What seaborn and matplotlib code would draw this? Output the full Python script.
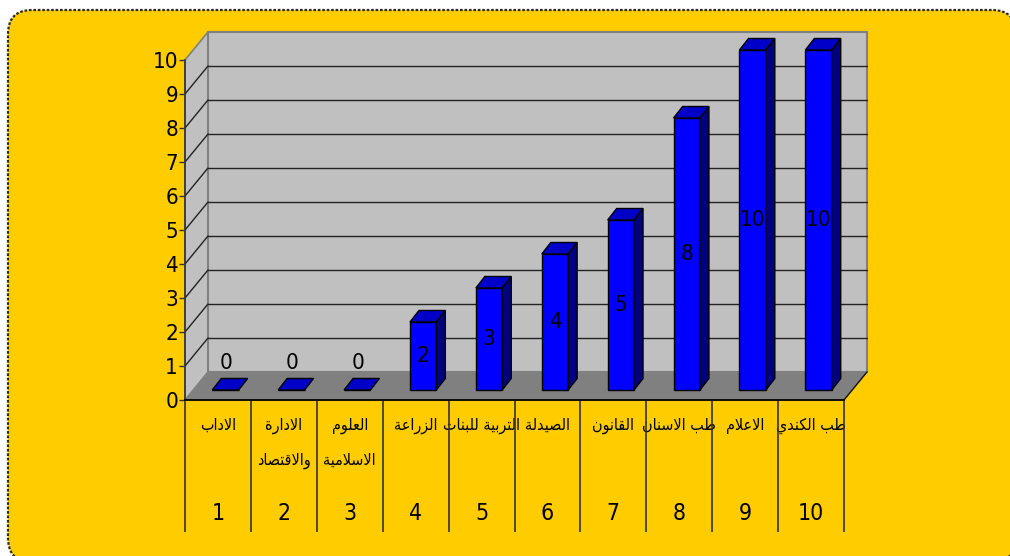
import numpy as np
import pandas as pd
import matplotlib
matplotlib.use("Agg")
import matplotlib.pyplot as plt
import seaborn as sns
from matplotlib import font_manager
from matplotlib.patches import Polygon, FancyBboxPatch
from matplotlib.lines import Line2D
from matplotlib.transforms import ScaledTranslation, IdentityTransform, blended_transform_factory

# ---------------- data ----------------
categories = ["الاداب", "الادارة\nوالاقتصاد", "العلوم\nالاسلامية", "الزراعة", "التربية للبنات",
              "الصيدلة", "القانون", "طب الاسنان", "الاعلام", "طب الكندي"]
category_numbers = ["1", "2", "3", "4", "5", "6", "7", "8", "9", "10"]
values = [0, 0, 0, 2, 3, 4, 5, 8, 10, 10]
y_ticks = [0, 1, 2, 3, 4, 5, 6, 7, 8, 9, 10]

# ---------------- Arabic shaping for display (matplotlib has no text shaping) ----------------
DUAL = {'ب': 0xFE8F, 'ت': 0xFE95, 'س': 0xFEB1, 'ص': 0xFEB9, 'ط': 0xFEC1, 'ع': 0xFEC9,
        'ق': 0xFED5, 'ك': 0xFED9, 'ل': 0xFEDD, 'م': 0xFEE1, 'ن': 0xFEE5, 'ي': 0xFEF1}
RIGHT = {'ا': 0xFE8D, 'ة': 0xFE93, 'د': 0xFEA9, 'ر': 0xFEAD, 'ز': 0xFEAF, 'و': 0xFEED}


def shape_line(s):
    tokens, i = [], 0
    while i < len(s):
        if s[i] == 'ل' and i + 1 < len(s) and s[i + 1] == 'ا':
            tokens.append('LA'); i += 2
        else:
            tokens.append(s[i]); i += 1

    def joins_left(t):
        return t in DUAL

    def joins_right(t):
        return t in DUAL or t in RIGHT or t == 'LA'

    out = []
    for k, t in enumerate(tokens):
        prev = tokens[k - 1] if k > 0 else None
        nxt = tokens[k + 1] if k + 1 < len(tokens) else None
        jp = prev is not None and joins_left(prev) and joins_right(t)
        jn = nxt is not None and joins_left(t) and joins_right(nxt)
        if t == 'LA':
            out.append(chr(0xFEFC if jp else 0xFEFB))
        elif t in RIGHT:
            out.append(chr(RIGHT[t] + (1 if jp else 0)))
        elif t in DUAL:
            b = DUAL[t]
            out.append(chr(b + 3 if (jp and jn) else b + 1 if jp else b + 2 if jn else b))
        else:
            out.append(t)
    return ''.join(reversed(out))


def shape(s):
    return '\n'.join(shape_line(l) for l in s.split('\n'))


# ---------------- style ----------------
sns.set_theme(style="white")
installed = {f.name for f in font_manager.fontManager.ttflist}
if 'Liberation Sans Narrow' in installed:
    NUM_FONT = dict(family=['Liberation Sans Narrow', 'DejaVu Sans'])
else:
    NUM_FONT = dict(family=['DejaVu Sans'], stretch='condensed')
AR_FONT = dict(family=['DejaVu Sans'], stretch='condensed')
plt.rcParams['font.family'] = NUM_FONT['family']

W, H = 1010, 556
fig = plt.figure(figsize=(W / 100, H / 100), dpi=100)
fig.patch.set_facecolor('white')

bg = FancyBboxPatch((8, -6), 1008, 552, boxstyle="round,pad=0,rounding_size=24",
                    transform=IdentityTransform(), facecolor='#FFCC00', edgecolor='#2a2a2a',
                    linewidth=1.6, linestyle=(0, (1.2, 0.8)), zorder=-10)
fig.patches.append(bg)

ax = fig.add_axes([185 / W, 1 - 400 / H, 659 / W, 340 / H])
ax.set_facecolor('none')
ax.set_zorder(1)

df = pd.DataFrame({'category': categories, 'value': values})
sns.barplot(data=df, x='category', y='value', order=categories, width=0.4, color='#0000FF',
            saturation=1, edgecolor='black', linewidth=1.0, ax=ax, zorder=5)
ax.set_xlim(-0.5, 9.5)
ax.set_ylim(0, 10)
ax.set_xlabel('')
ax.set_ylabel('')

fig.canvas.draw()

WALL = np.array([23.0, 28.0])   # depth of the wall (px)
FRONT = np.array([7.5, 10.0])   # bar front plane offset (px)
DEPTH = np.array([9.0, 11.5])   # bar depth (px)


def px(x, y):
    return ax.transData.transform((x, y))


ident = IdentityTransform()
x0, x1 = -0.5, 9.5

# left side wall
lw_poly = [px(x0, 0), px(x0, 10), px(x0, 10) + WALL, px(x0, 0) + WALL]
ax.add_patch(Polygon(lw_poly, closed=True, transform=ident, facecolor='#C0C0C0',
                     edgecolor='#808080', linewidth=1.2, zorder=1, clip_on=False))
# back wall
bw_poly = [px(x0, 0) + WALL, px(x1, 0) + WALL, px(x1, 10) + WALL, px(x0, 10) + WALL]
ax.add_patch(Polygon(bw_poly, closed=True, transform=ident, facecolor='#C0C0C0',
                     edgecolor='#808080', linewidth=1.5, zorder=1, clip_on=False))
# gridlines
for t in y_ticks[1:-1]:
    a, b = px(x0, t) + WALL, px(x1, t) + WALL
    ax.add_line(Line2D([a[0], b[0]], [a[1], b[1]], transform=ident, color='#222222',
                       linewidth=1.0, zorder=2, clip_on=False))
    c = px(x0, t)
    ax.add_line(Line2D([c[0], a[0]], [c[1], a[1]], transform=ident, color='#222222',
                       linewidth=1.0, zorder=2, clip_on=False))
# floor
fl_poly = [px(x0, 0), px(x1, 0), px(x1, 0) + WALL, px(x0, 0) + WALL]
ax.add_patch(Polygon(fl_poly, closed=True, transform=ident, facecolor='#808080',
                     edgecolor='none', zorder=3, clip_on=False))
a, b = px(x1, 0), px(x1, 0) + WALL
ax.add_line(Line2D([a[0], b[0]], [a[1], b[1]], transform=ident, color='#111111',
                   linewidth=1.0, zorder=3, clip_on=False))

# 3D bars from seaborn's patches
front_tr = ax.transData + ScaledTranslation(FRONT[0] / 100, FRONT[1] / 100, fig.dpi_scale_trans)
for i, patch in enumerate(ax.patches[:len(values)]):
    bx, by = patch.get_x(), patch.get_y()
    bw, bh = patch.get_width(), patch.get_height()
    patch.set_transform(front_tr)
    patch.set_clip_on(False)
    lt = px(bx, by + bh) + FRONT
    rt = px(bx + bw, by + bh) + FRONT
    rb = px(bx + bw, by) + FRONT
    top = [lt, rt, rt + DEPTH, lt + DEPTH]
    ax.add_patch(Polygon(top, closed=True, transform=ident, facecolor='#0000C8',
                         edgecolor='black', linewidth=1.0, zorder=6, clip_on=False))
    if bh > 0:
        side = [rb, rt, rt + DEPTH, rb + DEPTH]
        ax.add_patch(Polygon(side, closed=True, transform=ident, facecolor='#000080',
                             edgecolor='black', linewidth=1.0, zorder=6, clip_on=False))
    cx = bx + bw / 2
    if bh > 0:
        ax.text(cx, by + bh / 2, f"{values[i]}", transform=front_tr, ha='center', va='center',
                fontsize=16, color='black', zorder=8, **NUM_FONT)
    else:
        zt = ax.transData + ScaledTranslation((FRONT[0] + 1) / 100, (FRONT[1] + 27) / 100,
                                              fig.dpi_scale_trans)
        ax.text(cx, 0, f"{values[i]}", transform=zt, ha='center', va='center',
                fontsize=16, color='black', zorder=8, **NUM_FONT)

# axes / spines
for s in ['top', 'right']:
    ax.spines[s].set_visible(False)
ax.spines['left'].set_color('#333333')
ax.spines['left'].set_linewidth(1.2)
ax.spines['left'].set_zorder(9)
ax.spines['bottom'].set_color('black')
ax.spines['bottom'].set_linewidth(1.3)
ax.spines['bottom'].set_zorder(9)

ax.set_yticks(y_ticks)
ax.set_yticklabels([str(v) for v in y_ticks], fontsize=16, color='black', **NUM_FONT)
ax.tick_params(axis='y', left=True, length=4, width=1, color='#333333', pad=1, direction='out')

ax.set_xticks(range(len(categories)))
ax.set_xticklabels([shape(c) for c in categories], fontsize=11.5, color='black', **AR_FONT)
ax.tick_params(axis='x', bottom=False, length=0, pad=13)
for lab in ax.get_xticklabels():
    lab.set_linespacing(2.55)

bt = blended_transform_factory(ax.transData, ax.transAxes)
ax.vlines(np.arange(len(categories) + 1) - 0.5, -132 / 340, 0, transform=bt, colors='#333333',
          linewidth=1.2, clip_on=False, zorder=9)
for i, n in enumerate(category_numbers):
    ax.text(i, -113 / 340, n, transform=bt, ha='center', va='center', fontsize=16.5,
            color='black', **NUM_FONT)

fig.savefig('out.png', dpi=100, facecolor=fig.get_facecolor())
